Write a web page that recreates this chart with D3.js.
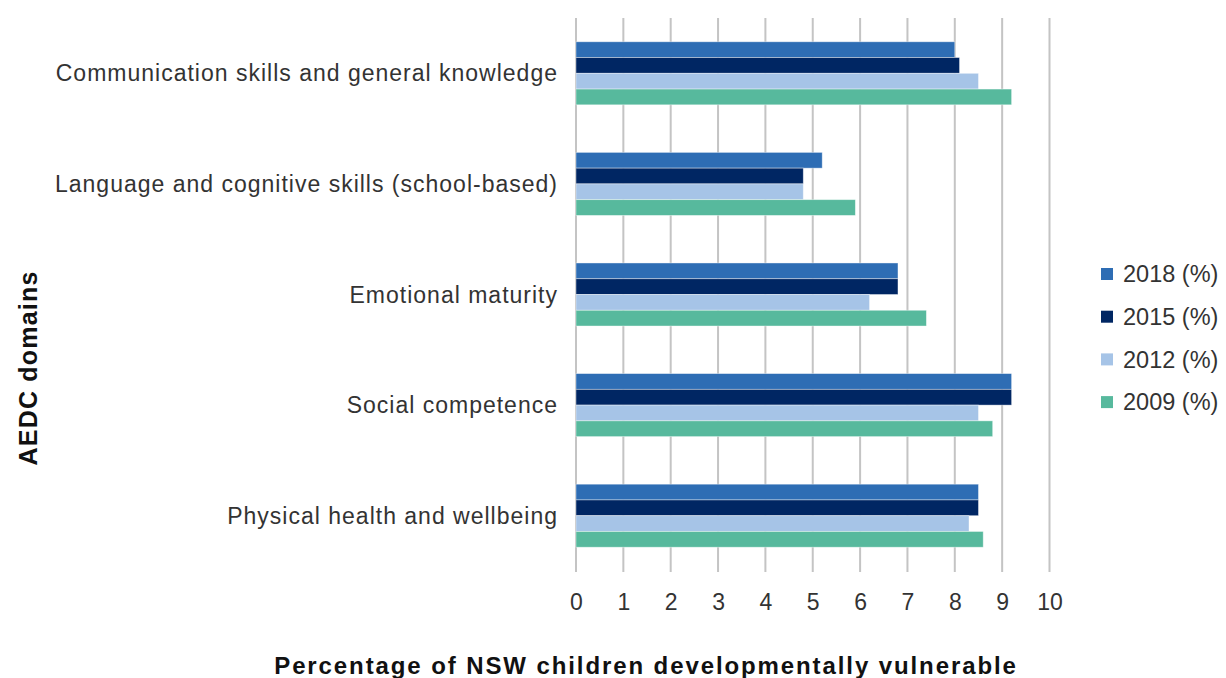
<!DOCTYPE html>
<html>
<head>
<meta charset="utf-8">
<script src="https://cdn.jsdelivr.net/npm/d3@7"></script>
<style>
  body { margin: 0; background: #fff; }
  text { font-family: "Liberation Sans", Arial, sans-serif; }
</style>
</head>
<body>
<div id="chart"></div>
<script>
// categories (top to bottom) and series values
const domains = [
    "Communication skills and general knowledge",
    "Language and cognitive skills (school-based)",
    "Emotional maturity",
    "Social competence",
    "Physical health and wellbeing"
];
const seriesNames = ["2018 (%)", "2015 (%)", "2012 (%)", "2009 (%)"];
const values2018 = [8.0, 5.2, 6.8, 9.2, 8.5];
const values2015 = [8.1, 4.8, 6.8, 9.2, 8.5];
const values2012 = [8.5, 4.8, 6.2, 8.5, 8.3];
const values2009 = [9.2, 5.9, 7.4, 8.8, 8.6];
const xTicks = [0, 1, 2, 3, 4, 5, 6, 7, 8, 9, 10];
const seriesColors = ["#2e6db4", "#002663", "#a6c4e7", "#57b99d"];

const allValues = [values2018, values2015, values2012, values2009];

const width = 1226, height = 678;
const margin = { top: 18, right: 177, bottom: 107, left: 576 };

const svg = d3.select('#chart')
    .append('svg')
    .attr('width', width)
    .attr('height', height);

const x = d3.scaleLinear()
    .domain([0, 10])
    .range([margin.left, 1049.5]);

const y = d3.scaleBand()
    .domain(domains)
    .range([margin.top, height - margin.bottom])
    .paddingInner(0.43)
    .paddingOuter(0.215);

const ySub = d3.scaleBand()
    .domain(seriesNames)
    .range([0, y.bandwidth()]);

// gridlines (run down past the plot as tick marks)
svg.append('g')
    .selectAll('line')
    .data(xTicks)
    .enter()
    .append('line')
    .attr('x1', d => x(d))
    .attr('x2', d => x(d))
    .attr('y1', margin.top)
    .attr('y2', 572)
    .attr('stroke', '#c4c4c4')
    .attr('stroke-width', 2);

// bars
const groups = svg.append('g')
    .selectAll('g')
    .data(domains)
    .enter()
    .append('g')
    .attr('transform', d => `translate(0, ${y(d)})`);

groups.selectAll('rect')
    .data((d, i) => seriesNames.map((s, j) => ({ series: s, value: allValues[j][i], color: seriesColors[j] })))
    .enter()
    .append('rect')
    .attr('x', x(0))
    .attr('y', d => ySub(d.series))
    .attr('width', d => x(d.value) - x(0))
    .attr('height', ySub.bandwidth())
    .attr('fill', d => d.color)
    .attr('stroke', 'rgba(255,255,255,0.5)')
    .attr('stroke-width', 0.8);

// x axis tick labels
const xAxis = d3.axisBottom(x)
    .tickValues(xTicks)
    .tickSize(0)
    .tickPadding(0);

const xg = svg.append('g')
    .attr('transform', 'translate(0, 610)')
    .call(xAxis);
xg.select('.domain').remove();
xg.selectAll('text')
    .attr('font-family', '"Liberation Sans", Arial, sans-serif')
    .attr('font-size', '23px')
    .attr('fill', '#333')
    .attr('dy', 0);

// y axis category labels
const yAxis = d3.axisLeft(y).tickSize(0).tickPadding(18);
const yg = svg.append('g')
    .attr('transform', `translate(${margin.left}, 0)`)
    .call(yAxis);
yg.select('.domain').remove();
yg.selectAll('text')
    .attr('font-family', '"Liberation Sans", Arial, sans-serif')
    .attr('font-size', '23px')
    .attr('letter-spacing', '1px')
    .attr('fill', '#333')
    .attr('dy', '0.35em');

// axis titles
svg.append('text')
    .attr('x', 646)
    .attr('y', 674)
    .attr('text-anchor', 'middle')
    .attr('font-size', '24px')
    .attr('font-weight', 'bold')
    .attr('letter-spacing', '1.9px')
    .attr('fill', '#111')
    .text('Percentage of NSW children developmentally vulnerable');

svg.append('text')
    .attr('transform', 'rotate(-90)')
    .attr('x', -368)
    .attr('y', 37)
    .attr('text-anchor', 'middle')
    .attr('font-size', '25px')
    .attr('font-weight', 'bold')
    .attr('letter-spacing', '1.2px')
    .attr('fill', '#111')
    .text('AEDC domains');

// legend
const legend = svg.append('g')
    .attr('transform', 'translate(1101, 274)');

seriesNames.forEach((name, i) => {
    const g = legend.append('g')
        .attr('transform', `translate(0, ${i * 42.7})`);
    g.append('rect')
        .attr('x', 0)
        .attr('y', -6)
        .attr('width', 12)
        .attr('height', 12)
        .attr('fill', seriesColors[i]);
    g.append('text')
        .attr('x', 22)
        .attr('y', 0)
        .attr('dy', '0.35em')
        .attr('font-size', '23.5px')
        .attr('fill', '#333')
        .text(name);
});
</script>
</body>
</html>
